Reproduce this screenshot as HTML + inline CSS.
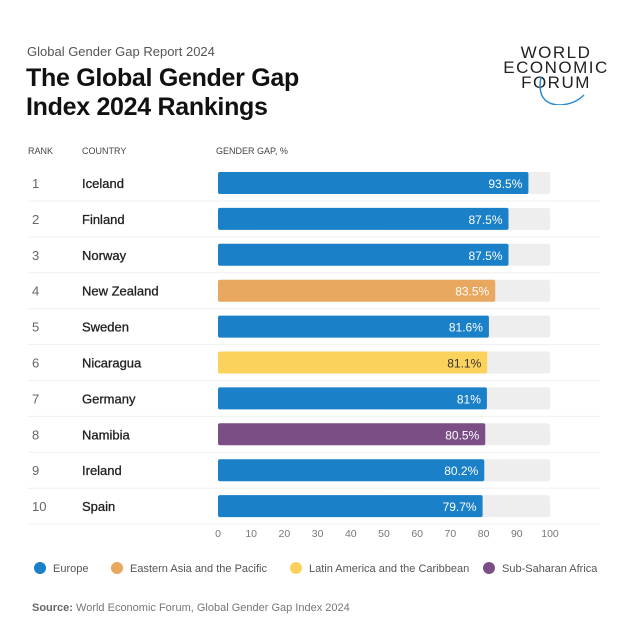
<!DOCTYPE html>
<html><head><meta charset="utf-8"><style>
body{margin:0;background:#fff;font-family:"Liberation Sans",sans-serif;}
#root{position:relative;width:640px;height:632px;overflow:hidden;background:#fff;}
.t{position:absolute;white-space:nowrap;}
</style></head><body>
<div id="root">
<div class="t" style="left:27px;top:44px;font-size:13px;color:#555;">Global Gender Gap Report 2024</div>
<div class="t" style="left:26px;top:64px;font-size:25px;font-weight:bold;color:#111;line-height:29px;letter-spacing:-0.3px;">The Global Gender Gap<br>Index 2024 Rankings</div>
<div style="position:absolute;left:496px;top:45px;width:120px;text-align:center;font-size:17px;line-height:15px;letter-spacing:1.5px;color:#222;">WORLD<br>ECONOMIC<br>FORUM
<svg width="120" height="30" style="position:absolute;left:0;top:30px;"><path d="M45 2 Q40 28 62 30 Q78 30 88 20" fill="none" stroke="#2a8ad4" stroke-width="1.5"/></svg></div>
<div class="t" style="left:28px;top:146px;font-size:9px;color:#444;">RANK</div>
<div class="t" style="left:82px;top:146px;font-size:9px;color:#444;">COUNTRY</div>
<div class="t" style="left:216px;top:146px;font-size:9px;color:#444;">GENDER GAP, %</div>
<svg id="chart" width="640" height="632" style="position:absolute;left:0;top:0;"></svg>
</div>
<script>
const countries=["Iceland","Finland","Norway","New Zealand","Sweden","Nicaragua","Germany","Namibia","Ireland","Spain"];
const values=[93.5,87.5,87.5,83.5,81.6,81.1,81,80.5,80.2,79.7];
const valueLabels=["93.5%","87.5%","87.5%","83.5%","81.6%","81.1%","81%","80.5%","80.2%","79.7%"];
const regions=[0,0,0,1,0,2,0,3,0,0];
const regionNames=["Europe","Eastern Asia and the Pacific","Latin America and the Caribbean","Sub-Saharan Africa"];
const ticks=[0,10,20,30,40,50,60,70,80,90,100];
const colors=["#1a80c8","#e8a860","#fbd35c","#7b4f85"];
const textColors=["#fff","#fff","#333","#fff"];
const NS="http://www.w3.org/2000/svg";
const svg=document.getElementById('chart');
const x=v=>218+v*3.32;
const y=i=>183+i*35.9;
function mk(tag,attrs,txt){const e=document.createElementNS(NS,tag);for(const k in attrs)e.setAttribute(k,attrs[k]);if(txt!==undefined)e.textContent=txt;svg.appendChild(e);return e;}
values.forEach((v,i)=>{
 const cy=y(i);
 let e=mk('line',{x1:28,x2:600,y1:cy+18,y2:cy+18,stroke:'#f0f0f0','stroke-width':1});
 
 
 e=mk('text',{x:32,y:cy+5,'font-size':13,fill:'#666'},String(i+1));
 
 
 e=mk('text',{x:82,y:cy+5,'font-size':13,fill:'#222','font-weight':'500','stroke':'#222','stroke-width':0.3},countries[i]);
 
 
 e=mk('rect',{x:x(0),y:cy-11,width:x(100)-x(0),height:22,fill:'#eeeeee',rx:2});
 
 
 e=mk('rect',{x:x(0),y:cy-11,width:x(v)-x(0),height:22,fill:colors[regions[i]],rx:2});
 
 
 e=mk('text',{x:x(v)-6,y:cy+5,'font-size':12,fill:textColors[regions[i]],'text-anchor':'end'},valueLabels[i]);
 
 
});
ticks.forEach(t=>{
 const e=mk('text',{x:x(t),y:537,'font-size':10.5,fill:'#777','text-anchor':'middle'},String(t));
 
 
});
const legX=[40,117,296,489];
regionNames.forEach((n,i)=>{
 let e=mk('circle',{cx:legX[i],cy:568,r:6,fill:colors[i]});
 
 
 e=mk('text',{x:legX[i]+13,y:572,'font-size':11,fill:'#555'},n);
 
 
});
</script>
<div class="t" style="left:32px;top:602px;font-size:11px;color:#777;"><b style="color:#666">Source:</b> World Economic Forum, Global Gender Gap Index 2024</div>
</body></html>
